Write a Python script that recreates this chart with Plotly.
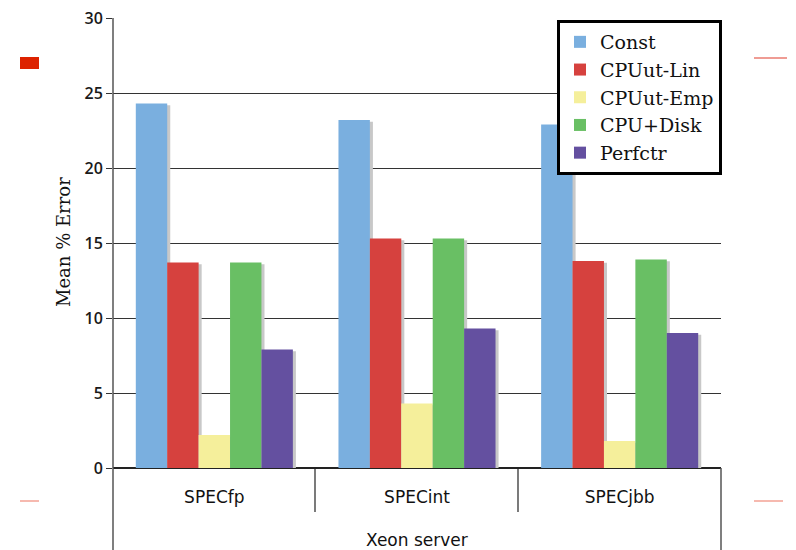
import plotly.graph_objects as go

categories = ["SPECfp", "SPECint", "SPECjbb"]
group_label = "Xeon server"
y_title = "Mean % Error"
series_names = ["Const", "CPUut-Lin", "CPUut-Emp", "CPU+Disk", "Perfctr"]
const_vals = [24.3, 23.2, 22.9]
cpuut_lin_vals = [13.7, 15.3, 13.8]
cpuut_emp_vals = [2.2, 4.3, 1.8]
cpu_disk_vals = [13.7, 15.3, 13.9]
perfctr_vals = [7.9, 9.3, 9.0]
y_ticks = [0, 5, 10, 15, 20, 25, 30]

series_vals = [const_vals, cpuut_lin_vals, cpuut_emp_vals, cpu_disk_vals, perfctr_vals]
colors = ["#7aafdf", "#d6413e", "#f5ef9b", "#69bf64", "#6450a0"]

# layout in pixels
W, H = 796, 550
L, R, T, B = 113, 75, 18, 82
PW, PH = W - L - R, H - T - B

bar_w = 0.155
start = -bar_w * len(series_names) / 2
shadow_dx = 0.015
shadow_dy = 0.12

fig = go.Figure()
# shadows
for i, vals in enumerate(series_vals):
    fig.add_trace(go.Bar(
        x=categories, y=[max(v - shadow_dy, 0) for v in vals],
        width=bar_w, offset=start + i * bar_w + shadow_dx,
        marker=dict(color="#c8c8c8", line=dict(width=0)),
        showlegend=False, hoverinfo="skip"))
# bars
for i, (name, vals) in enumerate(zip(series_names, series_vals)):
    fig.add_trace(go.Bar(
        x=categories, y=vals, name=name,
        width=bar_w, offset=start + i * bar_w,
        marker=dict(color=colors[i], line=dict(width=0))))

def px(xp):
    return (xp - L) / PW

def py(yp):
    return (H - B - yp) / PH

shapes = []
# left axis extension
shapes.append(dict(type="line", xref="paper", yref="paper", x0=0, x1=0, y0=py(T), y1=py(H),
                   line=dict(color="#555555", width=1.5)))
# right border below axis
shapes.append(dict(type="line", xref="paper", yref="paper", x0=1, x1=1, y0=0, y1=py(H),
                   line=dict(color="#555555", width=1.5)))
# separators between categories
for xp in [315, 518]:
    shapes.append(dict(type="line", xref="paper", yref="paper", x0=px(xp), x1=px(xp), y0=0, y1=py(512),
                       line=dict(color="#222222", width=1.2)))
# decorative marks
shapes.append(dict(type="rect", xref="paper", yref="paper", x0=px(20), x1=px(39), y0=py(57), y1=py(69),
                   fillcolor="#dd2200", line=dict(width=0)))
shapes.append(dict(type="line", xref="paper", yref="paper", x0=px(754), x1=px(787), y0=py(58), y1=py(58),
                   line=dict(color="#e03a2a", width=1.2)))
shapes.append(dict(type="line", xref="paper", yref="paper", x0=px(20), x1=px(39), y0=py(501), y1=py(501),
                   line=dict(color="#f08a7a", width=1.2)))
shapes.append(dict(type="line", xref="paper", yref="paper", x0=px(754), x1=px(783), y0=py(501), y1=py(501),
                   line=dict(color="#f08a7a", width=1.2)))

fig.update_layout(
    width=W, height=H,
    margin=dict(l=L, r=R, t=T, b=B, pad=0, autoexpand=False),
    paper_bgcolor="white", plot_bgcolor="white",
    barmode="overlay",
    showlegend=True,
    legend=dict(x=px(722), y=py(20), xanchor="right", yanchor="top",
                bgcolor="white", bordercolor="black", borderwidth=3,
                font=dict(family="DejaVu Serif", size=19, color="#111111"),
                tracegroupgap=0, itemwidth=30),
    font=dict(family="DejaVu Sans", color="#222222"),
    shapes=shapes,
    annotations=[
        dict(text=group_label, xref="paper", yref="paper", x=0.5, y=py(540),
             xanchor="center", yanchor="middle", showarrow=False,
             font=dict(family="DejaVu Sans", size=17, color="#111111")),
        dict(text=y_title, xref="paper", yref="paper", x=px(63), y=py(242),
             xanchor="center", yanchor="middle", showarrow=False, textangle=-90,
             font=dict(family="DejaVu Serif", size=18, color="#111111")),
    ],
    xaxis=dict(type="category", range=[-0.5, 2.5], showgrid=False, zeroline=False,
               showline=False, ticks="", ticklabelstandoff=17, automargin=False,
               tickfont=dict(family="DejaVu Sans", size=17, color="#111111")),
    yaxis=dict(range=[0, 30], tickvals=y_ticks, showgrid=True, gridcolor="#333333", gridwidth=1,
               zeroline=True, zerolinecolor="#222222", zerolinewidth=1.5, automargin=False,
               showline=False, ticks="outside", ticklen=6, tickcolor="#333333",
               tickfont=dict(family="Open Sans", size=16, color="#1a1a1a", weight=600)),
)

fig.write_html("out.html")
